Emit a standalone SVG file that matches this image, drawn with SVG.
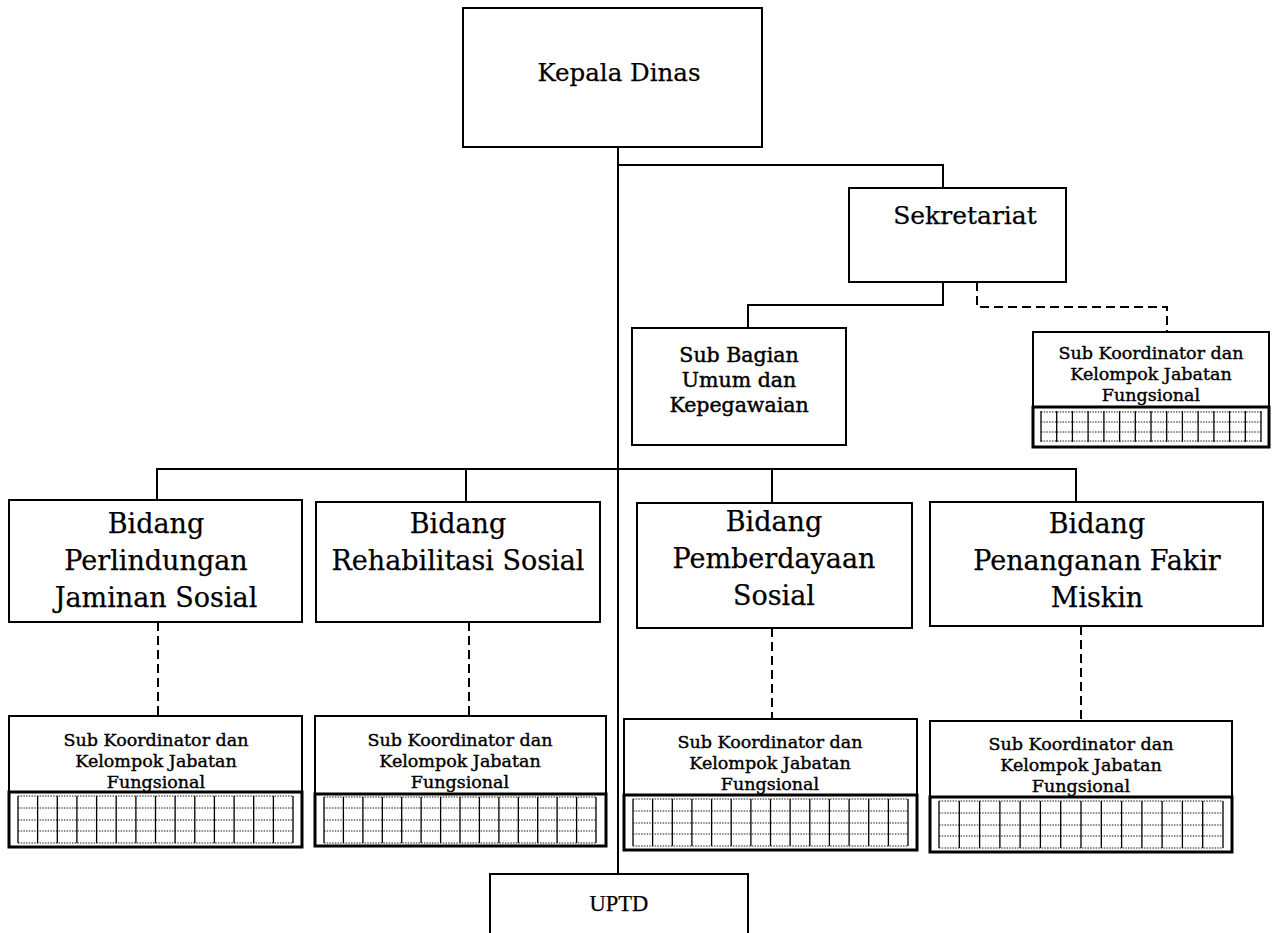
<svg xmlns="http://www.w3.org/2000/svg" width="1276" height="933" viewBox="0 0 1276 933">
<style>
.box{fill:#fff;stroke:#000;stroke-width:2}
.gbox{fill:#fff;stroke:#000;stroke-width:3}
.gv{fill:none;stroke:#000;stroke-width:1.3}
.gh{fill:none;stroke:#000;stroke-width:0.9;stroke-dasharray:1.5 1.2}
.ln{fill:none;stroke:#000;stroke-width:2}
.dl{fill:none;stroke:#000;stroke-width:2;stroke-dasharray:9 5}
text{font-family:"DejaVu Serif","Liberation Serif",serif;fill:#000;stroke:#000;stroke-width:0.25;text-anchor:middle}
.tk{font-size:24.5px}
.ts{font-size:25px}
.tb{font-size:27px}
.tg{font-size:20.5px;stroke-width:0.45}
.tf{font-size:17.5px;stroke-width:0.4}
.up{font-family:"Liberation Serif",serif;font-size:22.5px}
</style>
<rect width="1276" height="933" fill="#fff"/>
<g id="connectors">
<path class="ln" d="M618,147 V874"/>
<path class="ln" d="M618,165 H943 V188"/>
<path class="ln" d="M943,282 V305 H748 V328"/>
<path class="dl" d="M977,282 V307 H1167 V332"/>
<path class="ln" d="M157,500 V469 H1076 V502"/>
<path class="ln" d="M466,469 V502"/>
<path class="ln" d="M772,469 V503"/>
<path class="dl" d="M158,622 V716"/>
<path class="dl" d="M469,622 V716"/>
<path class="dl" d="M772,628 V719"/>
<path class="dl" d="M1081,626 V721"/>
</g>
<g id="kepala-dinas">
<rect class="box" x="463" y="8" width="299" height="139"/>
<text class="tk" x="619" y="81">Kepala Dinas</text>
</g>
<g id="sekretariat">
<rect class="box" x="849" y="188" width="217" height="94"/>
<text class="ts" x="965" y="224">Sekretariat</text>
</g>
<g id="sub-bagian">
<rect class="box" x="632" y="328" width="214" height="117"/>
<text class="tg" x="739" y="362">Sub Bagian</text>
<text class="tg" x="739" y="387">Umum dan</text>
<text class="tg" x="739" y="412">Kepegawaian</text>
</g>
<g id="subkoor-sekretariat">
<rect class="box" x="1033" y="332" width="236" height="75"/>
<text class="tf" x="1151" y="359">Sub Koordinator dan</text>
<text class="tf" x="1151" y="380">Kelompok Jabatan</text>
<text class="tf" x="1151" y="401">Fungsional</text>
<rect class="gbox" x="1033" y="407" width="236" height="40"/>
<path class="gv" d="M1041,411V442M1056.7,411V442M1072.4,411V442M1088.1,411V442M1103.9,411V442M1119.6,411V442M1135.3,411V442M1151,411V442M1166.7,411V442M1182.4,411V442M1198.1,411V442M1213.9,411V442M1229.6,411V442M1245.3,411V442M1261,411V442"/>
<path class="gh" d="M1041,412H1261M1041,422H1261M1041,432H1261M1041,441H1261"/>
</g>
<g id="bidang-perlindungan">
<rect class="box" x="9" y="500" width="293" height="122"/>
<text class="tb" x="156" y="533">Bidang</text>
<text class="tb" x="156" y="570">Perlindungan</text>
<text class="tb" x="156" y="607">Jaminan Sosial</text>
</g>
<g id="bidang-rehabilitasi">
<rect class="box" x="316" y="502" width="284" height="120"/>
<text class="tb" x="458" y="533">Bidang</text>
<text class="tb" x="458" y="570">Rehabilitasi Sosial</text>
</g>
<g id="bidang-pemberdayaan">
<rect class="box" x="637" y="503" width="275" height="125"/>
<text class="tb" x="774" y="531">Bidang</text>
<text class="tb" x="774" y="568">Pemberdayaan</text>
<text class="tb" x="774" y="605">Sosial</text>
</g>
<g id="bidang-penanganan">
<rect class="box" x="930" y="502" width="333" height="124"/>
<text class="tb" x="1097" y="533">Bidang</text>
<text class="tb" x="1097" y="570">Penanganan Fakir</text>
<text class="tb" x="1097" y="607">Miskin</text>
</g>
<g id="subkoor-1">
<rect class="box" x="9" y="716" width="293" height="76"/>
<text class="tf" x="156" y="746">Sub Koordinator dan</text>
<text class="tf" x="156" y="767">Kelompok Jabatan</text>
<text class="tf" x="156" y="788">Fungsional</text>
<rect class="gbox" x="9" y="792" width="293" height="55"/>
<path class="gv" d="M18,796V843M37.6,796V843M57.3,796V843M76.9,796V843M96.6,796V843M116.2,796V843M135.9,796V843M155.5,796V843M175.1,796V843M194.8,796V843M214.4,796V843M234.1,796V843M253.7,796V843M273.4,796V843M293,796V843"/>
<path class="gh" d="M18,796H293M18,808H293M18,820H293M18,831H293M18,843H293"/>
</g>
<g id="subkoor-2">
<rect class="box" x="315" y="716" width="291" height="78"/>
<text class="tf" x="460" y="746">Sub Koordinator dan</text>
<text class="tf" x="460" y="767">Kelompok Jabatan</text>
<text class="tf" x="460" y="788">Fungsional</text>
<rect class="gbox" x="315" y="794" width="291" height="52"/>
<path class="gv" d="M324,797V843M343.4,797V843M362.9,797V843M382.3,797V843M401.7,797V843M421.1,797V843M440.6,797V843M460,797V843M479.4,797V843M498.9,797V843M518.3,797V843M537.7,797V843M557.1,797V843M576.6,797V843M596,797V843"/>
<path class="gh" d="M324,797H596M324,808H596M324,820H596M324,831H596M324,843H596"/>
</g>
<g id="subkoor-3">
<rect class="box" x="624" y="719" width="293" height="76"/>
<text class="tf" x="770" y="748">Sub Koordinator dan</text>
<text class="tf" x="770" y="769">Kelompok Jabatan</text>
<text class="tf" x="770" y="790">Fungsional</text>
<rect class="gbox" x="624" y="795" width="293" height="55"/>
<path class="gv" d="M633,799V846M652.6,799V846M672.3,799V846M691.9,799V846M711.6,799V846M731.2,799V846M750.9,799V846M770.5,799V846M790.1,799V846M809.8,799V846M829.4,799V846M849.1,799V846M868.7,799V846M888.4,799V846M908,799V846"/>
<path class="gh" d="M633,799H908M633,811H908M633,823H908M633,834H908M633,846H908"/>
</g>
<g id="subkoor-4">
<rect class="box" x="930" y="721" width="302" height="76"/>
<text class="tf" x="1081" y="750">Sub Koordinator dan</text>
<text class="tf" x="1081" y="771">Kelompok Jabatan</text>
<text class="tf" x="1081" y="792">Fungsional</text>
<rect class="gbox" x="930" y="797" width="302" height="55"/>
<path class="gv" d="M939,801V848M959.3,801V848M979.6,801V848M999.9,801V848M1020.1,801V848M1040.4,801V848M1060.7,801V848M1081,801V848M1101.3,801V848M1121.6,801V848M1141.9,801V848M1162.1,801V848M1182.4,801V848M1202.7,801V848M1223,801V848"/>
<path class="gh" d="M939,801H1223M939,813H1223M939,825H1223M939,836H1223M939,848H1223"/>
</g>
<g id="uptd">
<rect class="box" x="490" y="874" width="258" height="70"/>
<text class="up" x="619" y="911">UPTD</text>
</g>
</svg>
